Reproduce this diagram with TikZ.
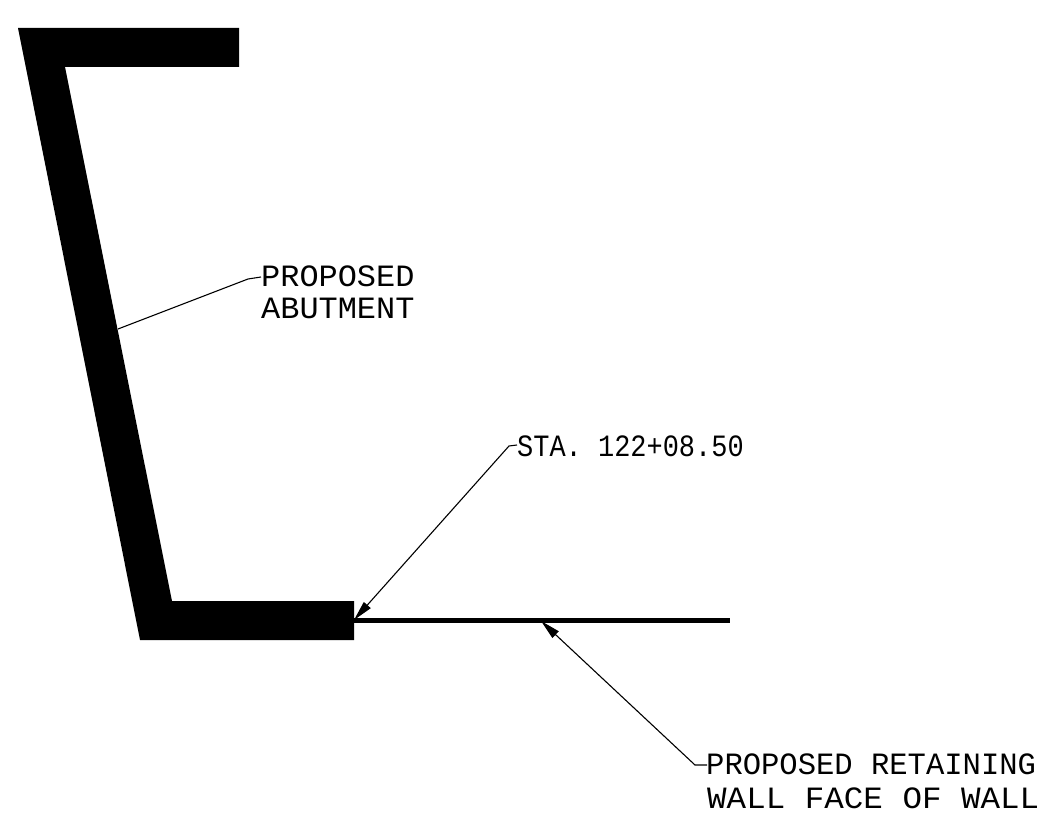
\documentclass[tikz,border=0pt]{standalone}
\usepackage{fontspec}
\usepackage{tikz}
\usetikzlibrary{arrows.meta}
\setmonofont{Liberation Mono}
\tikzset{
  label/.style={anchor=base west,inner sep=0pt,transform shape,font=\ttfamily\fontsize{31}{31}\selectfont},
  leader/.style={draw=black,line width=1.1pt},
  tip/.style={-{Triangle[length=20pt,width=9pt]}}
}
\begin{document}
\begin{tikzpicture}[x=1pt,y=-1pt]
          \useasboundingbox (0,0) rectangle (1045,824);
          \fill[black] (18,28) -- (239,28) -- (239,67) -- (65,67) -- (172,601) -- (354,601) -- (354,640) -- (140,640) -- cycle;
          \begin{scope}[every node/.style={label}]
            \node[xscale=1.03] (abutTop) at (261,286) {PROPOSED};
            \node[xscale=1.03] (abutBot) at (261,318) {ABUTMENT};
            \node[xscale=0.87] (sta) at (517,456) {STA. 122+08.50};
            \node[xscale=0.985] (wallTop) at (706,774) {PROPOSED RETAINING};
            \node[xscale=1.05] (wallBot) at (707,808) {WALL FACE OF WALL};
          \end{scope}
          \coordinate (wallStart) at (354,620);
          \coordinate (wallEnd) at (730,620);
          \coordinate (abutFace) at (118,329);
          \coordinate (abutKink) at (248,279);
          \coordinate (abutTip) at (261,277);
          \coordinate (staKink) at (509,446);
          \coordinate (staTip) at (517,445);
          \coordinate (wallMark) at (541,621);
          \coordinate (wallKink) at (695,765);
          \coordinate (wallTip) at (707,765);
          \draw[black,line width=5pt] (wallStart) -- (wallEnd);
          \draw[leader] (abutFace) -- (abutKink) -- (abutTip);
          \draw[leader,tip] (staTip) -- (staKink) -- (wallStart);
          \draw[leader,tip] (wallTip) -- (wallKink) -- (wallMark);
        \end{tikzpicture}
\end{document}
